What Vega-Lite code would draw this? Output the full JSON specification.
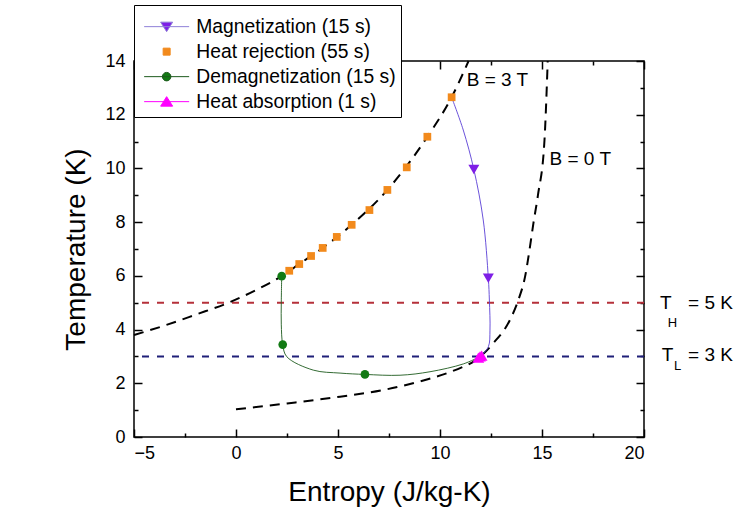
{
  "$schema": "https://vega.github.io/schema/vega-lite/v6.json",
  "width": 510,
  "height": 376,
  "autosize": {"type": "none"},
  "padding": {"left": 134, "top": 61, "right": 104, "bottom": 86},
  "background": "white",
  "config": {
    "font": "Liberation Sans",
    "view": {"stroke": "black", "strokeWidth": 1.5},
    "axis": {"grid": false, "domain": false, "tickColor": "black", "labelColor": "black", "titleColor": "black", "tickWidth": 1.5, "labelFontSize": 18, "titleFontSize": 28, "titleFontWeight": "normal"},
    "legend": {
      "fillColor": "white", "strokeColor": "black", "padding": 5,
      "labelFontSize": 19.3, "labelColor": "black", "labelLimit": 400,
      "symbolSize": 100, "symbolOffset": 18, "labelOffset": 20, "rowPadding": 5,
      "symbolStrokeWidth": 1, "symbolOpacity": 1,
      "titleFontSize": 7, "titlePadding": 0
    }
  },
  "datasets": {
    "iso": [{"name": "TH", "T": 5}, {"name": "TL", "T": 3}],
    "curves": [
      {"curve": "B3T", "S": -5, "T": 3.8},
      {"curve": "B3T", "S": -3.5, "T": 4.15},
      {"curve": "B3T", "S": -2, "T": 4.55},
      {"curve": "B3T", "S": -0.3, "T": 5.02},
      {"curve": "B3T", "S": 1.0, "T": 5.48},
      {"curve": "B3T", "S": 2.24, "T": 5.99},
      {"curve": "B3T", "S": 3.1, "T": 6.44},
      {"curve": "B3T", "S": 4.25, "T": 7.04},
      {"curve": "B3T", "S": 5.67, "T": 7.9},
      {"curve": "B3T", "S": 7.42, "T": 9.2},
      {"curve": "B3T", "S": 9.38, "T": 11.18},
      {"curve": "B3T", "S": 10.57, "T": 12.65},
      {"curve": "B3T", "S": 11.4, "T": 14.0},
      {"curve": "B0T", "S": 0, "T": 1.03},
      {"curve": "B0T", "S": 2.5, "T": 1.25},
      {"curve": "B0T", "S": 5.1, "T": 1.5},
      {"curve": "B0T", "S": 7.22, "T": 1.75},
      {"curve": "B0T", "S": 8.86, "T": 2.04},
      {"curve": "B0T", "S": 10.32, "T": 2.37},
      {"curve": "B0T", "S": 11.14, "T": 2.62},
      {"curve": "B0T", "S": 11.63, "T": 2.8},
      {"curve": "B0T", "S": 12.61, "T": 3.49},
      {"curve": "B0T", "S": 13.43, "T": 4.36},
      {"curve": "B0T", "S": 13.84, "T": 5.1},
      {"curve": "B0T", "S": 14.17, "T": 5.97},
      {"curve": "B0T", "S": 14.41, "T": 7.08},
      {"curve": "B0T", "S": 14.58, "T": 7.96},
      {"curve": "B0T", "S": 14.8, "T": 9.0},
      {"curve": "B0T", "S": 15.12, "T": 11.03},
      {"curve": "B0T", "S": 15.28, "T": 14.0}
    ],
    "cycle": [
      {"series": "Magnetization (15 s)", "i": 0, "S": 10.57, "T": 12.65},
      {"series": "Magnetization (15 s)", "i": 1, "S": 11.14, "T": 11.43},
      {"series": "Magnetization (15 s)", "i": 2, "S": 11.66, "T": 9.96},
      {"series": "Magnetization (15 s)", "i": 3, "S": 12.12, "T": 8.08},
      {"series": "Magnetization (15 s)", "i": 4, "S": 12.37, "T": 5.91},
      {"series": "Magnetization (15 s)", "i": 5, "S": 12.42, "T": 5.1},
      {"series": "Magnetization (15 s)", "i": 6, "S": 12.45, "T": 3.98},
      {"series": "Magnetization (15 s)", "i": 7, "S": 12.37, "T": 3.36},
      {"series": "Magnetization (15 s)", "i": 8, "S": 11.96, "T": 2.99},
      {"series": "Demagnetization (15 s)", "i": 0, "S": 2.24, "T": 5.99},
      {"series": "Demagnetization (15 s)", "i": 1, "S": 2.22, "T": 5.0},
      {"series": "Demagnetization (15 s)", "i": 2, "S": 2.22, "T": 4.2},
      {"series": "Demagnetization (15 s)", "i": 3, "S": 2.29, "T": 3.44},
      {"series": "Demagnetization (15 s)", "i": 4, "S": 2.49, "T": 2.99},
      {"series": "Demagnetization (15 s)", "i": 5, "S": 3.79, "T": 2.49},
      {"series": "Demagnetization (15 s)", "i": 6, "S": 5.1, "T": 2.38},
      {"series": "Demagnetization (15 s)", "i": 7, "S": 6.32, "T": 2.33},
      {"series": "Demagnetization (15 s)", "i": 8, "S": 8.04, "T": 2.3},
      {"series": "Demagnetization (15 s)", "i": 9, "S": 9.51, "T": 2.43},
      {"series": "Demagnetization (15 s)", "i": 10, "S": 11.14, "T": 2.72},
      {"series": "Demagnetization (15 s)", "i": 11, "S": 11.96, "T": 2.99},
      {"series": "Heat absorption (1 s)", "i": 0, "S": 11.88, "T": 2.96},
      {"series": "Heat absorption (1 s)", "i": 1, "S": 12.04, "T": 3.03}
    ],
    "markers": [
      {"series": "Magnetization (15 s)", "S": 11.66, "T": 9.96},
      {"series": "Magnetization (15 s)", "S": 12.37, "T": 5.91},
      {"series": "Heat rejection (55 s)", "S": 2.61, "T": 6.19},
      {"series": "Heat rejection (55 s)", "S": 3.1, "T": 6.44},
      {"series": "Heat rejection (55 s)", "S": 3.68, "T": 6.74},
      {"series": "Heat rejection (55 s)", "S": 4.25, "T": 7.04},
      {"series": "Heat rejection (55 s)", "S": 4.94, "T": 7.45},
      {"series": "Heat rejection (55 s)", "S": 5.67, "T": 7.9},
      {"series": "Heat rejection (55 s)", "S": 6.54, "T": 8.45},
      {"series": "Heat rejection (55 s)", "S": 7.42, "T": 9.2},
      {"series": "Heat rejection (55 s)", "S": 8.37, "T": 10.04},
      {"series": "Heat rejection (55 s)", "S": 9.38, "T": 11.18},
      {"series": "Heat rejection (55 s)", "S": 10.57, "T": 12.65},
      {"series": "Demagnetization (15 s)", "S": 2.24, "T": 5.99},
      {"series": "Demagnetization (15 s)", "S": 2.29, "T": 3.44},
      {"series": "Demagnetization (15 s)", "S": 6.32, "T": 2.33},
      {"series": "Heat absorption (1 s)", "S": 11.88, "T": 2.96},
      {"series": "Heat absorption (1 s)", "S": 11.96, "T": 3.0},
      {"series": "Heat absorption (1 s)", "S": 12.04, "T": 3.03}
    ],
    "notes": [
      {"S": 11.31, "T": 13.29, "label": "B = 3 T"},
      {"S": 15.37, "T": 10.34, "label": "B = 0 T"},
      {"S": 20.78, "T": 5.0, "label": "T"},
      {"S": 22.16, "T": 5.0, "label": "= 5 K"},
      {"S": 20.87, "T": 3.05, "label": "T"},
      {"S": 22.16, "T": 3.05, "label": "= 3 K"}
    ],
    "subs": [
      {"S": 21.17, "T": 4.24, "label": "H"},
      {"S": 21.47, "T": 2.64, "label": "L"}
    ]
  },
  "resolve": {"axis": {"x": "independent", "y": "independent"}},
  "layer": [
    {
      "data": {"name": "iso"},
      "transform": [{"filter": "datum.name === 'TH'"}],
      "mark": {"type": "rule", "color": "#b5303a", "strokeWidth": 2, "strokeDash": [7, 8]},
      "encoding": {"y": {"field": "T", "type": "quantitative", "scale": {"domain": [0, 14], "nice": false, "zero": false}, "axis": null}}
    },
    {
      "data": {"name": "iso"},
      "transform": [{"filter": "datum.name === 'TL'"}],
      "mark": {"type": "rule", "color": "#1f1f78", "strokeWidth": 2, "strokeDash": [7, 8]},
      "encoding": {"y": {"field": "T", "type": "quantitative", "scale": {"domain": [0, 14], "nice": false, "zero": false}, "axis": null}}
    },
    {
      "data": {"name": "curves"},
      "transform": [{"filter": "datum.curve === 'B3T'"}],
      "mark": {"type": "line", "color": "black", "strokeWidth": 2, "strokeDash": [10, 7], "interpolate": "monotone"},
      "encoding": {
        "x": {"field": "S", "type": "quantitative", "scale": {"domain": [-5, 20], "nice": false, "zero": false},
          "axis": {"orient": "bottom", "values": [-5, 0, 5, 10, 15, 20], "tickSize": -8, "labelPadding": 15, "title": "Entropy (J/kg-K)", "titlePadding": 16}},
        "y": {"field": "T", "type": "quantitative", "scale": {"domain": [0, 14], "nice": false, "zero": false},
          "axis": {"orient": "left", "values": [0, 2, 4, 6, 8, 10, 12, 14], "tickSize": -8, "labelPadding": 17, "title": "Temperature (K)", "titlePadding": 14}}
      }
    },
    {
      "data": {"name": "curves"},
      "transform": [{"filter": "datum.curve === 'B0T'"}],
      "mark": {"type": "line", "color": "black", "strokeWidth": 2, "strokeDash": [10, 7], "interpolate": "monotone"},
      "encoding": {
        "x": {"field": "S", "type": "quantitative", "scale": {"domain": [-5, 20], "nice": false, "zero": false},
          "axis": {"orient": "top", "values": [-5, 0, 5, 10, 15, 20], "tickSize": -8, "labels": false, "title": null}},
        "y": {"field": "T", "type": "quantitative", "scale": {"domain": [0, 14], "nice": false, "zero": false},
          "axis": {"orient": "right", "values": [0, 2, 4, 6, 8, 10, 12, 14], "tickSize": -8, "labels": false, "title": null}}
      }
    },
    {
      "data": {"name": "cycle"},
      "transform": [{"filter": "datum.series === 'Magnetization (15 s)'"}],
      "mark": {"type": "line", "color": "#5a3fd6", "strokeWidth": 0.9, "interpolate": "catmull-rom"},
      "encoding": {
        "x": {"field": "S", "type": "quantitative", "scale": {"domain": [-5, 20], "nice": false, "zero": false},
          "axis": {"orient": "bottom", "values": [-2.5, 2.5, 7.5, 12.5, 17.5], "tickSize": -4, "labels": false, "title": null}},
        "y": {"field": "T", "type": "quantitative", "scale": {"domain": [0, 14], "nice": false, "zero": false},
          "axis": {"orient": "left", "values": [1, 3, 5, 7, 9, 11, 13], "tickSize": -4, "labels": false, "title": null}},
        "order": {"field": "i", "type": "quantitative"}
      }
    },
    {
      "data": {"name": "cycle"},
      "transform": [{"filter": "datum.series === 'Demagnetization (15 s)'"}],
      "mark": {"type": "line", "color": "#1d5a1d", "strokeWidth": 0.9, "interpolate": "catmull-rom"},
      "encoding": {
        "x": {"field": "S", "type": "quantitative", "scale": {"domain": [-5, 20], "nice": false, "zero": false},
          "axis": {"orient": "top", "values": [-2.5, 2.5, 7.5, 12.5, 17.5], "tickSize": -4, "labels": false, "title": null}},
        "y": {"field": "T", "type": "quantitative", "scale": {"domain": [0, 14], "nice": false, "zero": false},
          "axis": {"orient": "right", "values": [1, 3, 5, 7, 9, 11, 13], "tickSize": -4, "labels": false, "title": null}},
        "order": {"field": "i", "type": "quantitative"}
      }
    },
    {
      "data": {"name": "cycle"},
      "transform": [{"filter": "datum.series === 'Heat absorption (1 s)'"}],
      "mark": {"type": "line", "color": "#ff00ff", "strokeWidth": 1},
      "encoding": {
        "x": {"field": "S", "type": "quantitative", "axis": null},
        "y": {"field": "T", "type": "quantitative", "axis": null},
        "order": {"field": "i", "type": "quantitative"}
      }
    },
    {
      "data": {"name": "markers"},
      "transform": [{"filter": "datum.series === 'Magnetization (15 s)'"}],
      "mark": {"type": "point", "shape": "triangle-down", "filled": true, "opacity": 1, "size": 120, "color": "#7e1ee6"},
      "encoding": {
        "x": {"field": "S", "type": "quantitative", "axis": null},
        "y": {"field": "T", "type": "quantitative", "axis": null}
      }
    },
    {
      "data": {"name": "markers"},
      "transform": [{"filter": "datum.series === 'Heat rejection (55 s)'"}],
      "mark": {"type": "point", "shape": "square", "filled": true, "opacity": 1, "size": 60, "color": "#f28a1c"},
      "encoding": {
        "x": {"field": "S", "type": "quantitative", "axis": null},
        "y": {"field": "T", "type": "quantitative", "axis": null}
      }
    },
    {
      "data": {"name": "markers"},
      "transform": [{"filter": "datum.series === 'Demagnetization (15 s)'"}],
      "mark": {"type": "point", "shape": "circle", "filled": true, "opacity": 1, "size": 75, "color": "#127a14"},
      "encoding": {
        "x": {"field": "S", "type": "quantitative", "axis": null},
        "y": {"field": "T", "type": "quantitative", "axis": null}
      }
    },
    {
      "data": {"name": "markers"},
      "transform": [{"filter": "datum.series === 'Heat absorption (1 s)'"}],
      "mark": {"type": "point", "shape": "triangle-up", "filled": true, "opacity": 1, "size": 140, "color": "#ff00ff"},
      "encoding": {
        "x": {"field": "S", "type": "quantitative", "axis": null},
        "y": {"field": "T", "type": "quantitative", "axis": null}
      }
    },
    {
      "data": {"name": "markers"},
      "transform": [{"filter": "false"}],
      "mark": {"type": "point", "filled": true, "opacity": 1},
      "encoding": {
        "x": {"field": "S", "type": "quantitative", "axis": null},
        "y": {"field": "T", "type": "quantitative", "axis": null},
        "shape": {"field": "series", "type": "nominal",
          "scale": {"domain": ["Magnetization (15 s)", "Heat rejection (55 s)", "Demagnetization (15 s)", "Heat absorption (1 s)"],
            "range": ["M-4.5,0L4.5,0M-1.2,-0.9L1.2,-0.9L0,1.0Z", "M-0.7,-0.7L0.7,-0.7L0.7,0.7L-0.7,0.7Z", "M-4.5,0L4.5,0M-0.85,0A0.85,0.85,0,1,0,0.85,0A0.85,0.85,0,1,0,-0.85,0Z", "M-4.5,0L4.5,0M-1.2,0.9L1.2,0.9L0,-1.0Z"]},
          "legend": {"orient": "none", "legendX": 0, "legendY": -56, "title": " ", "zindex": 1}},
        "fill": {"field": "series", "type": "nominal",
          "scale": {"domain": ["Magnetization (15 s)", "Heat rejection (55 s)", "Demagnetization (15 s)", "Heat absorption (1 s)"], "range": ["#7e1ee6", "#f28a1c", "#127a14", "#ff00ff"]},
          "legend": {"orient": "none", "legendX": 0, "legendY": -56, "title": " ", "zindex": 1}},
        "stroke": {"field": "series", "type": "nominal",
          "scale": {"domain": ["Magnetization (15 s)", "Heat rejection (55 s)", "Demagnetization (15 s)", "Heat absorption (1 s)"], "range": ["#8f80d8", "#f28a1c", "#1d5a1d", "#ff00ff"]},
          "legend": {"orient": "none", "legendX": 0, "legendY": -56, "title": " ", "zindex": 1}}
      }
    },
    {
      "data": {"name": "notes"},
      "mark": {"type": "text", "align": "left", "baseline": "middle", "fontSize": 19, "color": "black"},
      "encoding": {
        "x": {"field": "S", "type": "quantitative", "axis": null},
        "y": {"field": "T", "type": "quantitative", "axis": null},
        "text": {"field": "label"}
      }
    },
    {
      "data": {"name": "subs"},
      "mark": {"type": "text", "align": "left", "baseline": "middle", "fontSize": 13, "color": "black"},
      "encoding": {
        "x": {"field": "S", "type": "quantitative", "axis": null},
        "y": {"field": "T", "type": "quantitative", "axis": null},
        "text": {"field": "label"}
      }
    }
  ]
}
